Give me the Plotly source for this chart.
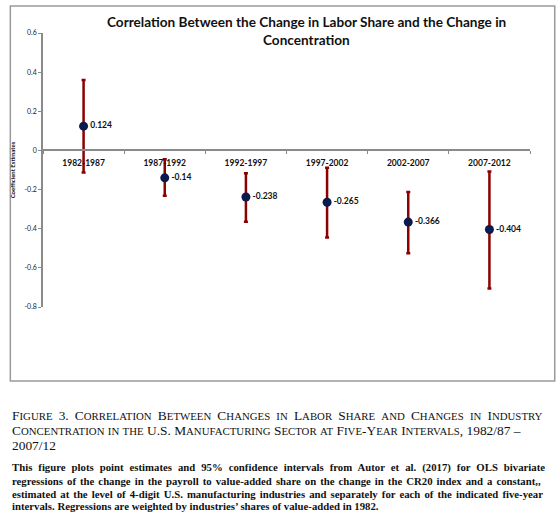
import plotly.graph_objects as go

periods = ["1982-1987", "1987-1992", "1992-1997", "1997-2002", "2002-2007", "2007-2012"]
estimates = [0.124, -0.14, -0.238, -0.265, -0.366, -0.404]
ci_upper = [0.36, -0.045, -0.116, -0.088, -0.212, -0.108]
ci_lower = [-0.113, -0.232, -0.364, -0.445, -0.525, -0.706]
labels = ["0.124", "-0.14", "-0.238", "-0.265", "-0.366", "-0.404"]
ytick_vals = [0.6, 0.4, 0.2, 0, -0.2, -0.4, -0.6, -0.8]
ytick_text = ["0.6", "0.4", "0.2", "0", "-0.2", "-0.4", "-0.6", "-0.8"]

title_lines = ["Correlation Between the Change in Labor Share and the Change in", "Concentration"]
caption_title = [
    "Figure 3. Correlation Between Changes in Labor Share and Changes in Industry",
    "Concentration in the U.S. Manufacturing Sector at Five-Year Intervals, 1982/87 \u2013",
    "2007/12",
]
caption_body = [
    "This figure plots point estimates and 95% confidence intervals from Autor et al. (2017) for OLS bivariate",
    "regressions of the change in the payroll to value-added share on the change in the CR20 index and a constant,,",
    "estimated at the level of 4-digit U.S. manufacturing industries and separately for each of the indicated five-year",
    "intervals. Regressions are weighted by industries\u2019 shares of value-added in 1982.",
]

W, H = 560, 519
ML, MR, MT, MB = 38, 30, 33, 212
PW, PH = W - ML - MR, H - MT - MB


def px2x(px):
    return (px - ML) / PW


def px2y(py):
    return (H - MB - py) / PH


def smallcaps(s, small):
    out = []
    for ch in s:
        if ch.islower():
            out.append(f'<span style="font-size:{small}px">{ch.upper()}</span>')
        else:
            out.append(ch)
    return "".join(out)


err_plus = [u - e for u, e in zip(ci_upper, estimates)]
err_minus = [e - l for e, l in zip(estimates, ci_lower)]

fig = go.Figure()
fig.add_trace(go.Scatter(
    x=periods, y=estimates, mode="markers+text",
    text=labels, textposition="middle right",
    textfont=dict(family="Lato", size=8.5, color="#111", weight="bold"),
    marker=dict(color="#0b1a4d", size=9, line=dict(color="#0b1a4d", width=0)),
    error_y=dict(type="data", symmetric=False, array=err_plus, arrayminus=err_minus,
                 color="#8b0000", thickness=2.5, width=2),
    cliponaxis=False, showlegend=False,
))

annotations = []
for line, py in zip(title_lines, [22, 40]):
    annotations.append(dict(
        xref="paper", yref="paper", x=px2x(304), y=px2y(py), xanchor="center", yanchor="middle",
        text=f"<b>{line}</b>", showarrow=False,
        font=dict(family="Lato", size=13.6, color="#111"),
    ))

cap_ws = [2.8, 0, 0]
for line, py, ws in zip(caption_title, [415, 430, 446], cap_ws):
    annotations.append(dict(
        xref="paper", yref="paper", x=px2x(5), y=px2y(py), xanchor="left", yanchor="middle",
        text=f'<span style="word-spacing:{ws}px">{smallcaps(line, 10.8)}</span>',
        showarrow=False, align="left",
        font=dict(family="Liberation Serif", size=13.4, color="#111"),
    ))

body_ws = [3.3, 1.35, 1.4, 0]
for line, py, ws in zip(caption_body, [468, 481, 494, 506], body_ws):
    annotations.append(dict(
        xref="paper", yref="paper", x=px2x(5), y=px2y(py), xanchor="left", yanchor="middle",
        text=f'<span style="word-spacing:{ws}px">{line}</span>', showarrow=False, align="left",
        font=dict(family="Liberation Serif", size=10.75, color="#111", weight="bold"),
    ))

fig.update_layout(
    width=W, height=H,
    margin=dict(l=ML, r=MR, t=MT, b=MB, pad=0),
    paper_bgcolor="white", plot_bgcolor="white",
    xaxis=dict(type="category", range=[-0.5, 5.5], anchor="free", position=0.8 / 1.4,
               showline=True, linecolor="#8a8a8a", linewidth=1.5, ticks="outside", ticklen=3,
               tickcolor="#8a8a8a", tickson="boundaries", showgrid=False, zeroline=False,
               ticklabelstandoff=5,
               tickfont=dict(family="Lato", size=8.5, color="#111", weight="bold")),
    yaxis=dict(range=[-0.8, 0.6], showline=True, linecolor="#8a8a8a", linewidth=1.5,
               ticks="outside", ticklen=3, tickcolor="#8a8a8a", showgrid=False, zeroline=False,
               tickvals=ytick_vals, ticktext=ytick_text,
               tickfont=dict(family="Lato", size=7, color="#222"),
               title=dict(text="Coefficient Estimates", standoff=8,
                          font=dict(family="Lato", size=6, color="#111", weight="bold"))),
    annotations=annotations,
    shapes=[dict(type="rect", xref="paper", yref="paper",
                 x0=px2x(5), x1=px2x(555), y0=px2y(381), y1=px2y(6),
                 line=dict(color="#9a9a9a", width=1.5), fillcolor="rgba(0,0,0,0)", layer="below")],
)

fig.write_html("out.html")
